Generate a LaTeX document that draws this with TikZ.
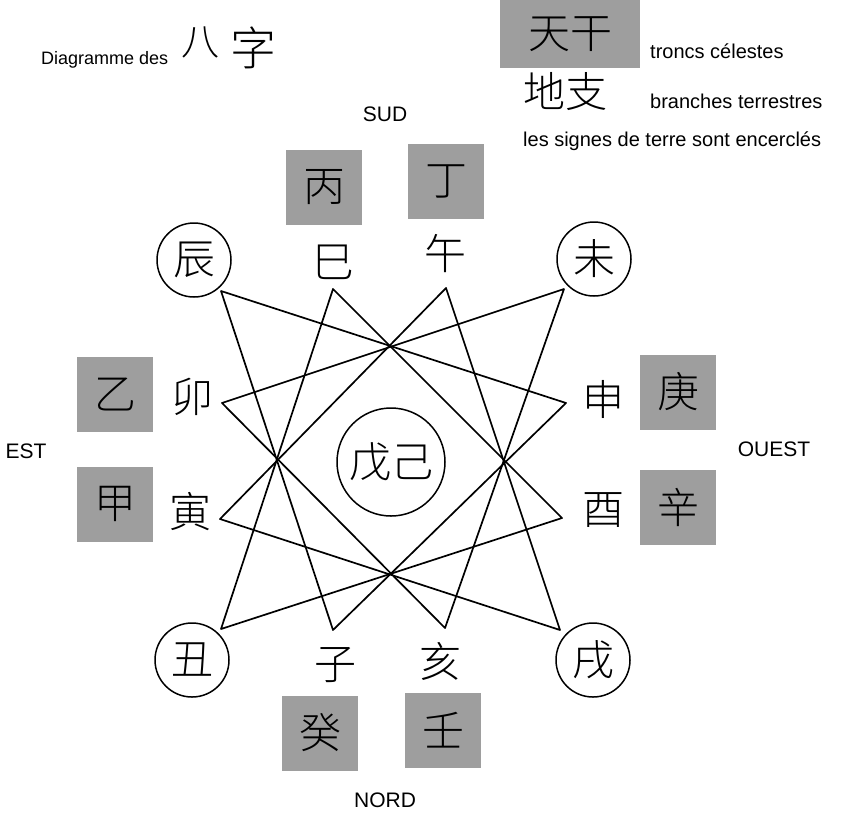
\documentclass[tikz,border=0pt]{standalone}
\usepackage{fontspec}
\setmainfont{Liberation Sans}
\newfontfamily\cjk{Noto Sans CJK SC Light}
\definecolor{stemgray}{gray}{0.62}
\begin{document}
\begin{tikzpicture}[x=1pt,y=-1pt,
  hanzi/.style={font=\cjk\fontsize{42}{42}\selectfont, inner sep=0pt},
  stembox/.style={hanzi, fill=stemgray, minimum width=76pt, minimum height=75pt},
  earthring/.style={hanzi, circle, draw, line width=1.5pt, minimum size=74pt},
  compass/.style={font=\fontsize{21}{21}\selectfont, inner sep=0pt},
  legend/.style={font=\fontsize{20}{20}\selectfont, anchor=base west, inner sep=0pt},
  star/.style={line width=1.7pt, line join=round}]
\useasboundingbox (0,0) rectangle (850,812);

% title and legend
\node[legend, font=\fontsize{18}{18}\selectfont] (title) at (41,64) {Diagramme des};
\node[hanzi, font=\cjk\fontsize{38}{38}\selectfont] (ba) at (200,42) {八};
\node[hanzi, font=\cjk\fontsize{46}{46}\selectfont] (zichar) at (253,48) {字};
\node[stembox, minimum width=140pt, minimum height=68pt] (tiangan) at (570,34) {天干};
\node[legend] (troncs) at (650,58) {troncs célestes};
\node[hanzi] (dizhi) at (565,92) {地支};
\node[legend] (branches) at (650,108) {branches terrestres};
\node[legend] (encercles) at (523,146) {les signes de terre sont encerclés};

% cardinal points
\node[compass] (sud) at (385,114) {SUD};
\node[compass] (nord) at (385,800) {NORD};
\node[compass] (est) at (26,451) {EST};
\node[compass] (ouest) at (774,449) {OUEST};

% heavenly stems
\node[stembox] (bing) at (324,187) {丙};
\node[stembox] (ding) at (446,181) {丁};
\node[stembox] (yi) at (115,394) {乙};
\node[stembox] (jia) at (115,504) {甲};
\node[stembox] (geng) at (678,392) {庚};
\node[stembox] (xin) at (678,507) {辛};
\node[stembox] (gui) at (320,733) {癸};
\node[stembox] (ren) at (443,730) {壬};

% earthly branches
\node[hanzi] (sichar) at (333,262) {巳};
\node[hanzi] (wuchar) at (445,254) {午};
\node[hanzi] (maochar) at (192,397) {卯};
\node[hanzi] (yinchar) at (190,512) {寅};
\node[hanzi] (shenchar) at (603,399) {申};
\node[hanzi] (youchar) at (603,510) {酉};
\node[hanzi] (zichar2) at (335,665) {子};
\node[hanzi] (haichar) at (440,661) {亥};
\node[earthring] (chenchar) at (194,260) {辰};
\node[earthring] (weichar) at (594,259) {未};
\node[earthring] (chouchar) at (192,660) {丑};
\node[earthring] (xuchar) at (593,660) {戌};
\node[hanzi, circle, draw, line width=1.5pt, minimum size=108pt] (wuji) at (391,462) {戊己};

% vertices of the four triangles
\coordinate (chen) at (221,291);
\coordinate (si)   at (333,289);
\coordinate (wu)   at (446,288);
\coordinate (wei)  at (564,289);
\coordinate (shen) at (566,403);
\coordinate (you)  at (562,518);
\coordinate (xu)   at (560,630);
\coordinate (hai)  at (445,628);
\coordinate (zi)   at (333,630);
\coordinate (chou) at (221,629);
\coordinate (yin)  at (220,519);
\coordinate (mao)  at (222,403);

% san he triangles: water, wood, fire, metal
\draw[star] (shen) -- (zi) -- (chen) -- cycle;
\draw[star] (hai) -- (mao) -- (wei) -- cycle;
\draw[star] (yin) -- (wu) -- (xu) -- cycle;
\draw[star] (si) -- (you) -- (chou) -- cycle;
\end{tikzpicture}
\end{document}
